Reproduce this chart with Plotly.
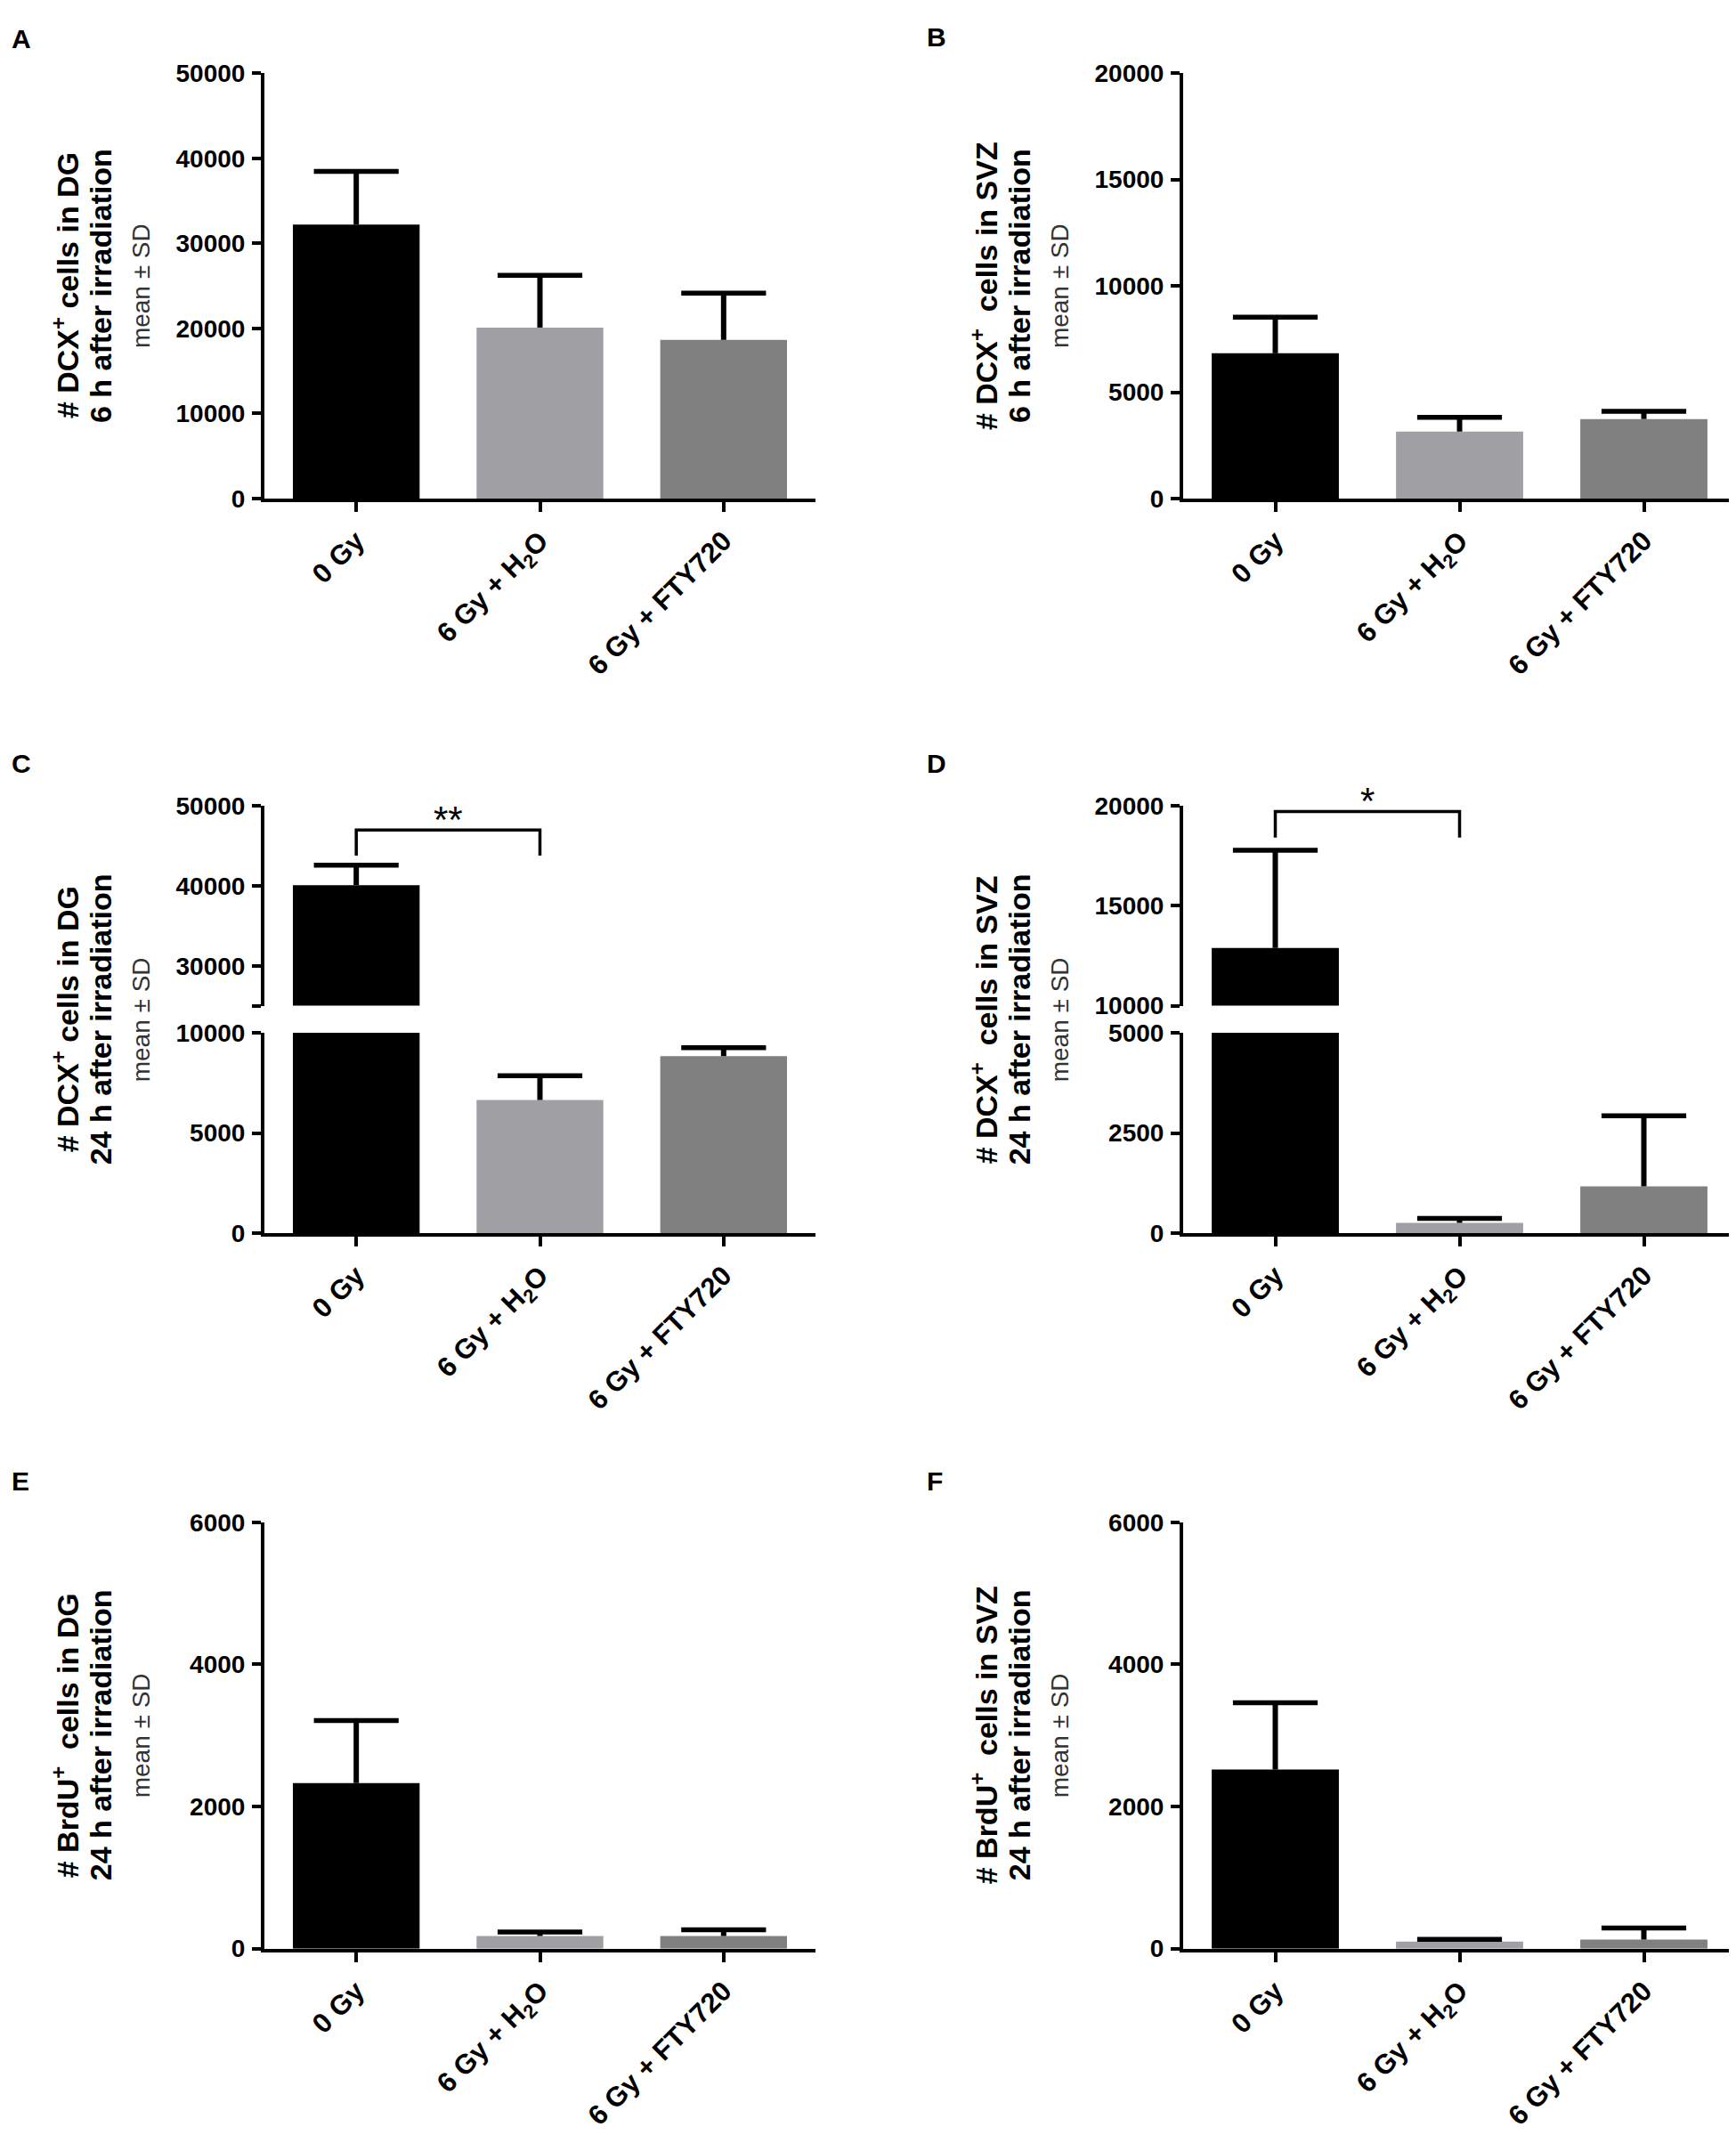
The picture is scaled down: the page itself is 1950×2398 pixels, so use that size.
import plotly.graph_objects as go

W, H = 1950, 2398

groups = ["0 Gy", "6 Gy + H2O", "6 Gy + FTY720"]
group_labels = ["0 Gy", "6 Gy + H<sub>2</sub>O", "6 Gy + FTY720"]
bar_colors = ["#000000", "#a0a0a4", "#808080"]

# mean and upper SD end for every panel
dcx_dg_6h = [32200, 20100, 18650]
dcx_dg_6h_top = [38450, 26250, 24150]
dcx_svz_6h = [6830, 3150, 3740]
dcx_svz_6h_top = [8530, 3820, 4100]
dcx_dg_24h = [40100, 6650, 8840]
dcx_dg_24h_top = [42600, 7860, 9260]
dcx_svz_24h = [12890, 260, 1170]
dcx_svz_24h_top = [17790, 370, 2930]
brdu_dg_24h = [2330, 176, 176]
brdu_dg_24h_top = [3210, 233, 264]
brdu_svz_24h = [2520, 100, 126]
brdu_svz_24h_top = [3460, 130, 290]

# significance brackets: (left group, right group, bracket level, leg end, label)
sig_c = (0, 1, 47000, 43800, "**")
sig_d = (0, 1, 19730, 18420, "*")

titles = {
    "A": ("# DCX<sup>+</sup> cells in DG", "6 h after irradiation"),
    "B": ("# DCX<sup>+</sup>  cells in SVZ", "6 h after irradiation"),
    "C": ("# DCX<sup>+</sup> cells in DG", "24 h after irradiation"),
    "D": ("# DCX<sup>+</sup>  cells in SVZ", "24 h after irradiation"),
    "E": ("# BrdU<sup>+</sup>  cells in DG", "24 h after irradiation"),
    "F": ("# BrdU<sup>+</sup>  cells in SVZ", "24 h after irradiation"),
}


def px_x(p):
    return p / W


def px_y(p):
    return 1 - p / H


left = [px_x(289), px_x(908)]
right = [px_x(1321), px_x(1942)]
row1 = [px_y(544), px_y(60)]
row2_hi = [px_y(1121), px_y(894)]
row2_lo = [px_y(1380), px_y(1152)]
row3 = [px_y(2194), px_y(1709)]

FONT = "Liberation Sans, Arial"
tick_font = dict(family=FONT, size=28, color="black", weight="bold")
xtick_font = dict(family=FONT, size=31, color="black", weight="bold")

fig = go.Figure()


def add_bars(vals, tops, xa, ya):
    fig.add_trace(go.Bar(
        x=groups, y=vals, xaxis=xa, yaxis=ya,
        marker=dict(color=bar_colors, line=dict(width=0)),
        showlegend=False, hoverinfo="y",
    ))
    # upper SD only: stem from the bar top, cap drawn as a line marker
    fig.add_trace(go.Scatter(
        x=groups, y=tops, xaxis=xa, yaxis=ya, mode="markers",
        marker=dict(symbol="line-ew", size=68, color="black",
                    line=dict(width=5.5, color="black")),
        error_y=dict(type="data", symmetric=False, array=[0, 0, 0],
                     arrayminus=[t - v for t, v in zip(tops, vals)],
                     color="black", thickness=6, width=0),
        showlegend=False, hoverinfo="y",
    ))


add_bars(dcx_dg_6h, dcx_dg_6h_top, "x", "y")
add_bars(dcx_svz_6h, dcx_svz_6h_top, "x2", "y2")
add_bars(dcx_dg_24h, dcx_dg_24h_top, "x3", "y3")
add_bars(dcx_dg_24h, dcx_dg_24h_top, "x3", "y4")
add_bars(dcx_svz_24h, dcx_svz_24h_top, "x4", "y5")
add_bars(dcx_svz_24h, dcx_svz_24h_top, "x4", "y6")
add_bars(brdu_dg_24h, brdu_dg_24h_top, "x5", "y7")
add_bars(brdu_svz_24h, brdu_svz_24h_top, "x6", "y8")


def xax(domain, anchor):
    return dict(domain=domain, anchor=anchor, range=[-0.5, 2.5],
                showline=True, linewidth=4, linecolor="black",
                ticks="outside", ticklen=11, tickwidth=4, tickcolor="black",
                tickvals=groups, ticktext=group_labels, tickangle=-45,
                tickfont=xtick_font, showgrid=False, zeroline=False,
                ticklabelstandoff=2)


def yax(domain, anchor, rng, tickvals, ticktext=None):
    d = dict(domain=domain, anchor=anchor, range=rng,
             showline=True, linewidth=4, linecolor="black",
             ticks="outside", ticklen=10, tickwidth=4, tickcolor="black",
             tickvals=tickvals, tickformat="d", tickfont=tick_font,
             showgrid=False, zeroline=False, ticklabelstandoff=2)
    if ticktext is not None:
        d["ticktext"] = ticktext
    return d


fig.update_layout(
    width=W, height=H,
    margin=dict(l=0, r=0, t=0, b=0),
    plot_bgcolor="white", paper_bgcolor="white",
    bargap=0.31,
    xaxis=xax(left, "y"),
    yaxis=yax(row1, "x", [0, 50000], [0, 10000, 20000, 30000, 40000, 50000]),
    xaxis2=xax(right, "y2"),
    yaxis2=yax(row1, "x2", [0, 20000], [0, 5000, 10000, 15000, 20000]),
    xaxis3=xax(left, "y3"),
    yaxis3=yax(row2_lo, "x3", [0, 10000], [0, 5000, 10000]),
    yaxis4=yax(row2_hi, "x3", [25000, 50000], [25000, 30000, 40000, 50000],
               ["", "30000", "40000", "50000"]),
    xaxis4=xax(right, "y5"),
    yaxis5=yax(row2_lo, "x4", [0, 5000], [0, 2500, 5000]),
    yaxis6=yax(row2_hi, "x4", [10000, 20000], [10000, 15000, 20000]),
    xaxis5=xax(left, "y7"),
    yaxis7=yax(row3, "x5", [0, 6000], [0, 2000, 4000, 6000]),
    xaxis6=xax(right, "y8"),
    yaxis8=yax(row3, "x6", [0, 6000], [0, 2000, 4000, 6000]),
)

# significance brackets
for sig, xa, ya in [(sig_c, "x3", "y4"), (sig_d, "x4", "y6")]:
    g0, g1, level, leg, label = sig
    fig.add_shape(type="path", xref=xa, yref=ya,
                  path=f"M {g0} {leg} L {g0} {level} L {g1} {level} L {g1} {leg}",
                  line=dict(color="black", width=3.5))
    fig.add_annotation(x=(g0 + g1) / 2, y=level, xref=xa, yref=ya, text=label,
                       showarrow=False, yanchor="bottom", yshift=-14,
                       font=dict(family=FONT, size=42, color="black"))

# y titles and panel letters
panels = [
    ("A", 289, (60 + 544) / 2, 3, 21),
    ("B", 1321, (60 + 544) / 2, 1031, 19),
    ("C", 289, (894 + 1380) / 2, 3, 845),
    ("D", 1321, (894 + 1380) / 2, 1031, 845),
    ("E", 289, (1709 + 2194) / 2, 3, 1662),
    ("F", 1321, (1709 + 2194) / 2, 1031, 1662),
]
for key, ax_px, mid_px, lx, ly in panels:
    l1, l2 = titles[key]
    for text, off in [(l1, 224), (l2, 184)]:
        fig.add_annotation(x=px_x(ax_px - off), y=px_y(mid_px), xref="paper", yref="paper",
                           text=f"<b>{text}</b>", textangle=-90, showarrow=False,
                           xanchor="center", yanchor="middle",
                           font=dict(family=FONT, size=34, color="black"))
    fig.add_annotation(x=px_x(ax_px - 139), y=px_y(mid_px), xref="paper", yref="paper",
                       text="mean ± SD", textangle=-90, showarrow=False,
                       xanchor="center", yanchor="middle",
                       font=dict(family=FONT, size=28, color="#333333"))
    fig.add_annotation(x=px_x(lx), y=px_y(ly), xref="paper", yref="paper",
                       text=f"<b>{key}</b>", showarrow=False,
                       xanchor="left", yanchor="middle",
                       font=dict(family=FONT, size=30, color="black"))

fig.write_html("out.html")
